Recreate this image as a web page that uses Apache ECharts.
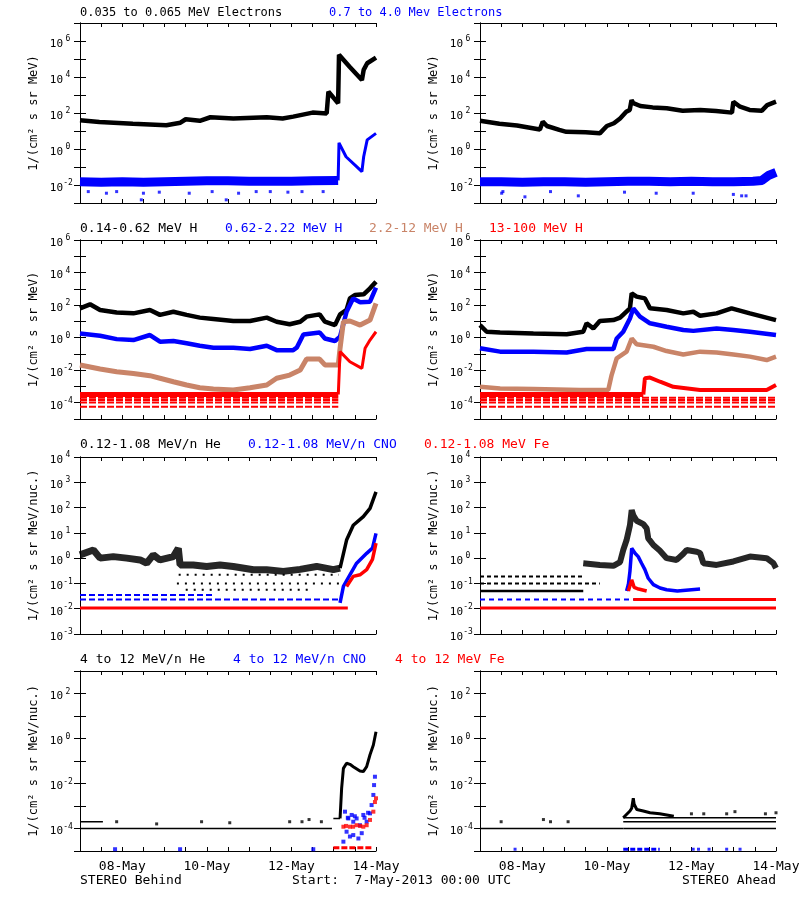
<!DOCTYPE html>
<html><head><meta charset="utf-8">
<script src="https://cdn.jsdelivr.net/npm/echarts@6/dist/echarts.min.js"></script>
<style>html,body{margin:0;padding:0;background:#fff}#c{width:800px;height:900px}</style>
</head><body><div id="c"></div>
<script>
// x: hours since 7-May-2013 00:00 UTC ; y: intensity
const xTickHours = [24, 72, 120, 168];
const xTickLabels = ['08-May', '10-May', '12-May', '14-May'];

// ---- Row 1: electrons ----
const behE035 = [[0,40],[11,32],[30,25],[49,21],[57,29],[60,45],[68,37],[74,58],[87,50],[106,58],[115,50],[121,63],[132,105],[140,95],[141,1550],[146.5,350],[147,1.7e5],[153,3.7e4],[160,6.8e3],[161,2.5e4],[163,5.8e4],[168,1.2e5]];
const behE07quiet = [[0,0.015],[12,0.014],[24,0.015],[36,0.014],[48,0.015],[60,0.016],[72,0.017],[84,0.017],[96,0.016],[108,0.016],[120,0.016],[132,0.017],[146.5,0.018]];
const behE07event = [[146.5,0.018],[147,2.2],[151,0.37],[157,0.105],[160,0.055],[161,0.37],[163,3.2],[168,7.4]];
const behE07out = [[4.7,4.3e-3],[15,3.5e-3],[20.8,4.3e-3],[34.8,1.5e-3],[36,3.5e-3],[45,4e-3],[62,3.5e-3],[75,4.3e-3],[83,1.5e-3],[90,3.5e-3],[100,4.3e-3],[108,4.3e-3],[118,4e-3],[126,4.3e-3],[138,4.3e-3]];
const ahdE035 = [[0,37],[11,25],[21,20],[34,12],[35.6,33],[38,19],[45,11.5],[49,9],[60,8.5],[68,7.4],[72,19],[76,27],[79.5,50],[83,117],[85,148],[86,525],[87,350],[91,245],[98,205],[106,182],[115,135],[125,148],[134,129],[143,105],[143.8,425],[147.6,224],[153,148],[160,135],[163,275],[168,425]];
const ahdE07 = [[0,0.015],[12,0.015],[24,0.014],[36,0.015],[48,0.015],[60,0.014],[72,0.015],[84,0.016],[96,0.016],[108,0.015],[120,0.016],[132,0.015],[144,0.015],[155,0.016],[160,0.018],[164,0.035],[168,0.05]];
const ahdE07out = [[12.3,3.5e-3],[13,4.3e-3],[25.5,2.2e-3],[40,4.3e-3],[55.8,2.5e-3],[82,4e-3],[100,3.5e-3],[121,3.5e-3],[143.8,3e-3],[148.5,2.5e-3],[151,2.5e-3]];

// ---- Row 2: protons ----
const behH014 = [[0,63],[5.7,112],[11.4,50],[20.8,35],[30.3,31],[39.7,50],[45.4,25],[53,39],[60.5,25],[68,17],[75.7,14],[87,10.5],[96.5,10.5],[106,17],[111.6,9.5],[119,6.6],[125,9.5],[128.6,19.5],[136,27],[139,9.5],[144.7,5.9],[147.6,27],[151.3,50],[153.2,257],[156,417],[161,457],[164.6,1070],[168,2750]];
const behH062 = [[0,1.8],[11.4,1.32],[20.8,0.81],[30.3,0.71],[39.7,1.45],[45.4,0.56],[53,0.62],[60.5,0.45],[68,0.32],[75.7,0.24],[87,0.24],[96.5,0.2],[106,0.32],[111.6,0.17],[121,0.17],[123,0.24],[126.8,1.58],[136,2.1],[139,0.89],[144.7,0.62],[147.6,1.15],[151.3,39],[155,257],[159,148],[164.6,162],[168,1175]];
const behH22 = [[0,0.021],[11.4,0.0117],[20.8,0.0081],[30.3,0.0063],[39.7,0.0046],[45.4,0.0032],[53,0.00195],[60.5,0.00123],[68,0.00083],[75.7,0.00069],[87,0.0006],[96.5,0.00083],[106,0.00123],[111.6,0.0032],[119,0.005],[125,0.0102],[128.6,0.048],[136,0.048],[139,0.021],[146.6,0.021],[147.6,0.22],[149.5,9.5],[153.2,10.5],[159,5.9],[164.6,12],[168,129]];
const behH13band = [[0,3.2e-4],[146.6,3.2e-4]];
const behH13levels = [[0,146.6,2.0e-4],[0,146.6,1.45e-4],[0,146.6,1.05e-4],[0,146.6,5.6e-5]];
const behH13event = [[146.6,3.2e-4],[147.6,0.138],[153.2,0.033],[160,0.0129],[161.8,0.22],[164.6,0.71],[168,2.3]];
const ahdH014 = [[0,5.9],[3.8,2.3],[11.4,2.1],[30.3,1.8],[49.2,1.6],[58.6,2.3],[60.5,7.6],[64.3,3.7],[68,10.5],[75.7,12],[79.5,17],[85.1,63],[86.1,525],[88.9,331],[93.6,257],[96.5,63],[105.9,50],[115.4,31],[121.1,39],[124.9,22],[134.3,31],[142.8,63],[153.2,31],[168,12]];
const ahdH062 = [[0,0.22],[11.4,0.138],[30.3,0.138],[49.2,0.123],[60.5,0.2],[75.7,0.2],[77.6,0.89],[81.3,2.3],[85.1,15],[87,63],[90.8,19.5],[96.5,7.6],[105.9,4.7],[115.4,2.95],[121.1,2.6],[134.3,3.7],[143.8,2.95],[153.2,2.3],[168,1.45]];
const ahdH22 = [[0,0.00095],[11.4,0.00076],[30.3,0.00069],[56.8,0.0006],[72.8,0.0006],[74.7,0.005],[77.6,0.054],[83.2,0.138],[86.1,0.89],[88.9,0.39],[98.4,0.275],[105.9,0.15],[115.4,0.093],[124.9,0.138],[134.3,0.123],[143.8,0.093],[153.2,0.068],[162.7,0.042],[168,0.068]];
const ahdH13band = [[0,3.2e-4],[92.7,3.2e-4]];
const ahdH13levels = [[0,168,2.0e-4],[0,168,1.45e-4],[0,168,1.05e-4],[0,168,5.6e-5]];
const ahdH13event = [[92.7,3.2e-4],[93.6,0.0032],[96.5,0.0035],[102.2,0.00195],[109.7,0.00095],[124.9,0.0006],[143.8,0.0006],[162.7,0.0006],[168,0.00123]];

// ---- Row 3: 0.12-1.08 MeV/n ions ----
const behHeLo = [[0,1.35],[7.6,2.1],[11.4,1.0],[18.9,1.15],[26.5,1.0],[34.1,0.85],[37.8,0.63],[41.6,1.35],[45.4,0.85],[53,1.15],[55.8,2.45],[56.8,0.54],[64.3,0.54],[71.9,0.47],[79.5,0.54],[87,0.47],[98.4,0.35],[105.9,0.35],[115.4,0.3],[124.9,0.36],[134.3,0.47],[143.8,0.35],[147.6,0.4]];
const behHeLoEvent = [[147.6,0.4],[151.3,5.2],[155.1,20],[160.8,44],[164.6,93],[168,420]];
const behHeLoLevels = [[55,147,0.1],[56,147,0.22],[60,130,0.056]];
const behCNOLoLevels = [[0,147.6,0.023],[0,75,0.035]];
const behCNOLoEvent = [[147.6,0.017],[149.5,0.076],[153.2,0.22],[157,0.63],[162.7,1.55],[166,2.5],[168,9.5]];
const behFeLoLevel = [[0,152,0.0107]];
const behFeLoEvent = [[151.3,0.076],[155.1,0.19],[158.9,0.22],[162.7,0.35],[166,0.9],[168,3.9]];
const ahdHeLo = [[58.6,0.63],[68,0.54],[75.7,0.5],[79.5,0.7],[81.3,2.1],[83.2,5.2],[85.1,20],[86.1,79],[87,50],[88.9,30],[92.7,22],[94.6,15],[95.5,6],[98.4,3.3],[102,2],[105.9,1.0],[111.6,0.85],[115.4,1.5],[117.3,2.1],[123,1.8],[124.9,1.6],[126.8,0.63],[134.3,0.54],[143.8,0.74],[153.2,1.15],[162.7,1.0],[166.5,0.63],[168,0.4]];
const ahdHeLoFloor = [[0,58.6,0.05]];
const ahdHeLoLevels = [[0,68,0.1],[0,58,0.19]];
const ahdCNOLoLevel = [[0,168,0.023]];
const ahdCNOLoEvent = [[83.2,0.05],[84.2,0.09],[85.1,0.3],[86.1,2.45],[88,1.55],[89.8,1.15],[91.7,0.63],[93.6,0.35],[95.5,0.16],[98.4,0.09],[102.2,0.066],[105.9,0.056],[112,0.05],[124.9,0.06]];
const ahdFeLoLevels = [[0,168,0.0107],[87,168,0.023]];
const ahdFeLoEvent = [[84.2,0.05],[86.1,0.138],[87.5,0.07],[90,0.06],[94.6,0.05]];

// ---- Row 4: 4-12 MeV/n ions ----
const behHeHiLevels = [[0,143,1e-4],[0,13,2e-4],[143.8,147.6,2.8e-4]];
const behHeHiDots = [[20.8,2e-4],[43.5,1.6e-4],[69,2e-4],[85,1.8e-4],[119,2e-4],[126,2e-4],[130,2.5e-4],[137,2e-4]];
const behHeHiEvent = [[147.6,2.8e-4],[148.5,6.2e-3],[149.5,0.047],[151.3,0.079],[153.2,0.071],[155.1,0.056],[158.9,0.036],[160.8,0.034],[162.7,0.056],[164.6,0.19],[166.5,0.51],[168,2.0]];
const behCNOHi = [[150.4,5.6e-4],[152.3,2.8e-4],[154.2,4e-4],[155.1,2e-4],[157,2.8e-4],[158.9,1.4e-4],[160.8,4e-4],[162.7,2e-4],[151.3,7.2e-5],[153.2,4.4e-5],[155.1,5.1e-5],[158,3.6e-5],[159.9,6.2e-5],[149.5,2.6e-5],[164.6,4.7e-4],[165.5,1.1e-3],[166.5,3.1e-3],[166.9,8.5e-3],[167.4,0.02],[19.9,1.2e-5],[56.8,1.2e-5],[132.4,1.2e-5],[152,3e-4],[156,3.5e-4],[161.5,3e-4],[163.5,5e-4]];
const behFeHi = [[149.5,1.2e-4],[153.2,1.2e-4],[157,1.4e-4],[160.8,1.2e-4],[162.7,1.4e-4],[164.6,2.4e-4],[166.5,5.6e-4],[167.4,1.5e-3],[168,2.2e-3],[151,1.3e-4],[155,1.2e-4],[159,1.3e-4]];
const behFeHiLevel = [[143.8,166.5,1.4e-5]];
const ahdHeHiLevels = [[0,81.3,1e-4],[81.3,168,1e-4],[81.3,168,2e-4],[81.3,168,3e-4]];
const ahdHeHiEvent = [[81.3,3e-4],[85.1,6e-4],[86.1,8e-4],[87,2.2e-3],[87.5,1.2e-3],[89,7e-4],[92.7,6e-4],[96.5,5e-4],[102,4.5e-4],[110,3.5e-4]];
const ahdHeHiDots = [[12,2e-4],[36,2.5e-4],[40,2e-4],[50,2e-4],[120,4.5e-4],[127,4.5e-4],[140,4.5e-4],[144.7,5.6e-4],[162,4.5e-4],[168,5e-4]];
const ahdCNOHiLevel = [[81.3,102,1.2e-5]];
const ahdCNOHiDots = [[19.9,1.2e-5],[121,1.2e-5],[124,1.2e-5],[130,1.2e-5],[140,1.2e-5],[147.6,1.2e-5]];

// ---------- layout & helpers ----------
const FONT = 'DejaVu Sans Mono';
const C = {k:'#000000', b:'#0000ff', o:'#c98468', r:'#ff0000'};
const colLeft = [80, 480], plotW = 296;
const rowTop = [23, 240, 457, 671], rowH = [180, 179, 177, 180];
const yRange = [[1e-3,1e7],[1e-5,1e6],[1e-3,1e4],[1e-5,1e3]];
const yLabelExps = [[-2,0,2,4,6],[-4,-2,0,2,4,6],[-3,-2,-1,0,1,2,3,4],[-4,-2,0,2]];
const yNames = ['1/(cm² s sr MeV)','1/(cm² s sr MeV)','1/(cm² s sr MeV/nuc.)','1/(cm² s sr MeV/nuc.)'];

const grid = [], xAxis = [], yAxis = [], series = [];
for (let g = 0; g < 8; g++) {
  const row = Math.floor(g/2), col = g % 2;
  grid.push({left: colLeft[col], top: rowTop[row], width: plotW, height: rowH[row], containLabel: false, outerBoundsMode: 'none'});
  const xBase = {gridIndex: g, type: 'value', min: 0, max: 168, interval: 24,
    axisLine: {show: true, onZero: false, lineStyle: {color: '#000', width: 1}},
    axisTick: {show: true, inside: true, length: 4, lineStyle: {color: '#000'}},
    minorTick: {show: true, splitNumber: 2, length: 4, lineStyle: {color: '#000'}},
    splitLine: {show: false}, minorSplitLine: {show: false}};
  xAxis.push(Object.assign({}, xBase, {position: 'bottom',
    axisLabel: {show: row === 3, margin: 9, color: '#000', fontFamily: FONT, fontSize: 13,
      formatter: v => { const i = xTickHours.indexOf(v); return i >= 0 ? xTickLabels[i] : ''; }}}));
  xAxis.push(Object.assign({}, xBase, {position: 'top', axisLabel: {show: false}}));
  const yBase = {gridIndex: g, type: 'log', logBase: 10, min: yRange[row][0], max: yRange[row][1], interval: 1,
    axisLine: {show: true, lineStyle: {color: '#000', width: 1}},
    axisTick: {show: true, inside: true, length: 6, lineStyle: {color: '#000'}},
    splitLine: {show: false}};
  yAxis.push(Object.assign({}, yBase, {position: 'left',
    name: yNames[row], nameLocation: 'middle', nameGap: 40, nameMoveOverlap: false,
    nameTextStyle: {fontFamily: FONT, fontSize: 12, color: '#000'},
    axisLabel: {show: true, margin: 7, padding: [6,0,0,0],
      formatter: v => { const e = Math.round(Math.log10(v)); return yLabelExps[row].indexOf(e) >= 0 ? '{b|10}{s|' + e + '}' : ''; },
      rich: {b: {fontFamily: FONT, fontSize: 11, lineHeight: 18, color: '#000'},
             s: {fontFamily: FONT, fontSize: 8, lineHeight: 10, verticalAlign: 'top', width: 10, align: 'left', color: '#000'}}}}));
  yAxis.push(Object.assign({}, yBase, {position: 'right', axisLabel: {show: false}}));
}

function L(g, data, color, width, extra) {
  const s = {type: 'line', xAxisIndex: 2*g, yAxisIndex: 2*g, data: data, showSymbol: false, symbol: 'none',
    silent: true, animation: false, clip: true,
    lineStyle: {color: color, width: width}, itemStyle: {color: color}};
  if (extra) { if (extra.type) s.lineStyle.type = extra.type; if (extra.opacity != null) s.lineStyle.opacity = extra.opacity; }
  series.push(s);
}
function LV(g, levels, color, width, type) {
  levels.forEach(([a, b, v]) => L(g, [[a, v], [b, v]], color, width, type ? {type: type} : null));
}
function SC(g, data, color, size) {
  series.push({type: 'scatter', xAxisIndex: 2*g, yAxisIndex: 2*g, data: data, symbol: 'rect', symbolSize: size,
    silent: true, animation: false, itemStyle: {color: color}});
}

// Row 1
L(0, behE035, C.k, 4.5);
L(0, behE07quiet, C.b, 9);
L(0, behE07event, C.b, 3);
SC(0, behE07out, C.b, 3);
L(1, ahdE035, C.k, 4.5);
L(1, ahdE07, C.b, 9);
SC(1, ahdE07out, C.b, 3);
// Row 2
L(2, behH014, C.k, 4.5);
L(2, behH062, C.b, 4.5);
L(2, behH22, C.o, 5);
L(2, behH13band, C.r, 5);
LV(2, behH13levels, C.r, 2, [7,2]);
L(2, behH13event, C.r, 3);
L(3, ahdH014, C.k, 4.5);
L(3, ahdH062, C.b, 4.5);
L(3, ahdH22, C.o, 4.5);
L(3, ahdH13band, C.r, 5);
LV(3, ahdH13levels, C.r, 2, [7,2]);
L(3, ahdH13event, C.r, 4);
// Row 3
LV(4, behHeLoLevels, C.k, 2, [2,6]);
L(4, behHeLo, C.k, 7, {opacity: 0.85});
L(4, behHeLoEvent, C.k, 3.5);
LV(4, behCNOLoLevels, C.b, 2, [6,3]);
L(4, behCNOLoEvent, C.b, 3.5);
LV(4, behFeLoLevel, C.r, 3);
L(4, behFeLoEvent, C.r, 3.5);
LV(5, ahdHeLoFloor, C.k, 2.5);
LV(5, ahdHeLoLevels, C.k, 2, [4,3]);
L(5, ahdHeLo, C.k, 6, {opacity: 0.85});
LV(5, ahdCNOLoLevel, C.b, 2, [5,4]);
L(5, ahdCNOLoEvent, C.b, 3.5);
LV(5, ahdFeLoLevels, C.r, 3);
L(5, ahdFeLoEvent, C.r, 3.5);
// Row 4
LV(6, behHeHiLevels, C.k, 1.5);
SC(6, behHeHiDots, C.k, 3);
L(6, behHeHiEvent, C.k, 3);
SC(6, behCNOHi, C.b, 4);
SC(6, behFeHi, C.r, 4);
LV(6, behFeHiLevel, C.r, 3, [6,2]);
LV(7, ahdHeHiLevels, C.k, 1.5);
L(7, ahdHeHiEvent, C.k, 3);
SC(7, ahdHeHiDots, C.k, 3);
LV(7, ahdCNOHiLevel, C.b, 3, [5,2]);
SC(7, ahdCNOHiDots, C.b, 3);

const texts = [
  [80, 13, '0.035 to 0.065 MeV Electrons', C.k, 'left', 12],
  [329, 13, '0.7 to 4.0 Mev Electrons', C.b, 'left', 12],
  [80, 229, '0.14-0.62 MeV H', C.k, 'left', 13],
  [225, 229, '0.62-2.22 MeV H', C.b, 'left', 13],
  [369, 229, '2.2-12 MeV H', C.o, 'left', 13],
  [489, 229, '13-100 MeV H', C.r, 'left', 13],
  [80, 445, '0.12-1.08 MeV/n He', C.k, 'left', 13],
  [248, 445, '0.12-1.08 MeV/n CNO', C.b, 'left', 13],
  [424, 445, '0.12-1.08 MeV Fe', C.r, 'left', 13],
  [80, 660, '4 to 12 MeV/n He', C.k, 'left', 13],
  [233, 660, '4 to 12 MeV/n CNO', C.b, 'left', 13],
  [395, 660, '4 to 12 MeV Fe', C.r, 'left', 13],
  [80, 881, 'STEREO Behind', C.k, 'left', 13],
  [292, 881, 'Start:  7-May-2013 00:00 UTC', C.k, 'left', 13],
  [776, 881, 'STEREO Ahead', C.k, 'right', 13]
];
const graphic = texts.map(([x, y, t, c, a, fs]) => ({type: 'text', x: x, y: y, silent: true,
  style: {text: t, fill: c, font: fs + 'px "' + FONT + '"', align: a, verticalAlign: 'middle'}}));

const chart = echarts.init(document.getElementById('c'), null, {renderer: 'canvas'});
chart.setOption({animation: false, backgroundColor: '#fff', grid, xAxis, yAxis, series, graphic});
</script></body></html>
